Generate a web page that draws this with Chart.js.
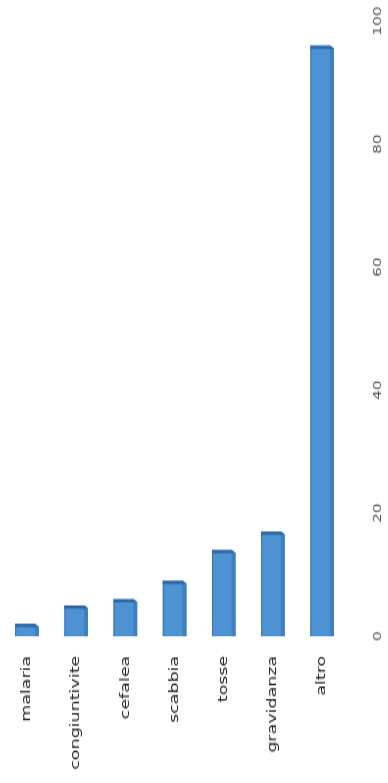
<!DOCTYPE html>
<html>
<head>
<meta charset="utf-8">
<script src="https://cdn.jsdelivr.net/npm/chart.js@4/dist/chart.umd.min.js"></script>
<style>
  html, body { margin: 0; padding: 0; background: #fff; overflow: hidden; }
  #wrap {
    position: absolute;
    left: 0;
    top: 0;
    width: 560px;
    height: 388px;
    transform-origin: 0 0;
    /* chart is laid out as horizontal bars, then turned on its side and stretched */
    transform: translate(0, 783px) rotate(-90deg) scaleX(1.398);
  }
</style>
</head>
<body>
<div id="wrap"><canvas id="chart" width="560" height="388"></canvas></div>
<script>
const categories = ['malaria', 'congiuntivite', 'cefalea', 'scabbia', 'tosse', 'gravidanza', 'altro'];
const counts = [2, 5, 6, 9, 14, 17, 96];
const valueTicks = [0, 20, 40, 60, 80, 100];

const barColor = '#4d92d3';

// fake 3D look: darker cap at the value end, shaded side and a chamfered corner
const bevel = {
  id: 'bevel',
  afterDatasetsDraw(chart) {
    const ctx = chart.ctx;
    const meta = chart.getDatasetMeta(0);
    const capW = 2.2;
    const sideW = 4;
    ctx.save();
    meta.data.forEach(el => {
      const { x, y, base, height } = el.getProps(['x', 'y', 'base', 'height'], true);
      const top = y - height / 2;
      const bottom = y + height / 2;
      // side face
      ctx.fillStyle = '#3f80c0';
      ctx.fillRect(base, bottom - sideW, x - base, sideW);
      // edge line on the other side
      ctx.fillStyle = '#3a72ad';
      ctx.fillRect(base, top, x - base, 1);
      // cap
      ctx.fillStyle = '#2f64a0';
      ctx.beginPath();
      ctx.moveTo(x, top);
      ctx.lineTo(x, bottom - sideW);
      ctx.lineTo(x - capW, bottom);
      ctx.lineTo(x - capW, top);
      ctx.closePath();
      ctx.fill();
      // chamfered corner
      ctx.fillStyle = '#fff';
      ctx.beginPath();
      ctx.moveTo(x + 0.5, bottom - sideW);
      ctx.lineTo(x + 0.5, bottom + 0.5);
      ctx.lineTo(x - capW, bottom + 0.5);
      ctx.closePath();
      ctx.fill();
    });
    ctx.restore();
  }
};

new Chart(document.getElementById('chart'), {
  type: 'bar',
  data: {
    labels: categories,
    datasets: [{
      data: counts,
      backgroundColor: barColor,
      borderWidth: 0,
      barPercentage: 0.48,
      categoryPercentage: 1
    }]
  },
  options: {
    indexAxis: 'y',
    responsive: false,
    animation: false,
    events: [],
    layout: {
      padding: { top: 2.4, right: 15, bottom: 0, left: 0 }
    },
    plugins: {
      legend: { display: false },
      tooltip: { enabled: false }
    },
    scales: {
      y: {
        grid: { display: false, drawTicks: false },
        border: { display: false },
        ticks: {
          padding: 14,
          color: '#222',
          font: { family: 'DejaVu Sans', size: 12.5 }
        },
        afterFit(scale) {
          scale.width = 105;
          scale.paddingTop = 0;
          scale.paddingBottom = 0;
        }
      },
      x: {
        min: 0,
        max: 100,
        afterBuildTicks(scale) {
          scale.ticks = valueTicks.map(v => ({ value: v }));
        },
        grid: { display: false, drawTicks: false },
        border: { display: false },
        ticks: {
          padding: 25,
          color: '#555',
          font: { family: 'DejaVu Sans', size: 11 }
        },
        afterFit(scale) {
          scale.height = 41.2;
          scale.paddingLeft = 0;
          scale.paddingRight = 0;
        }
      }
    }
  },
  plugins: [bevel]
});
</script>
</body>
</html>
